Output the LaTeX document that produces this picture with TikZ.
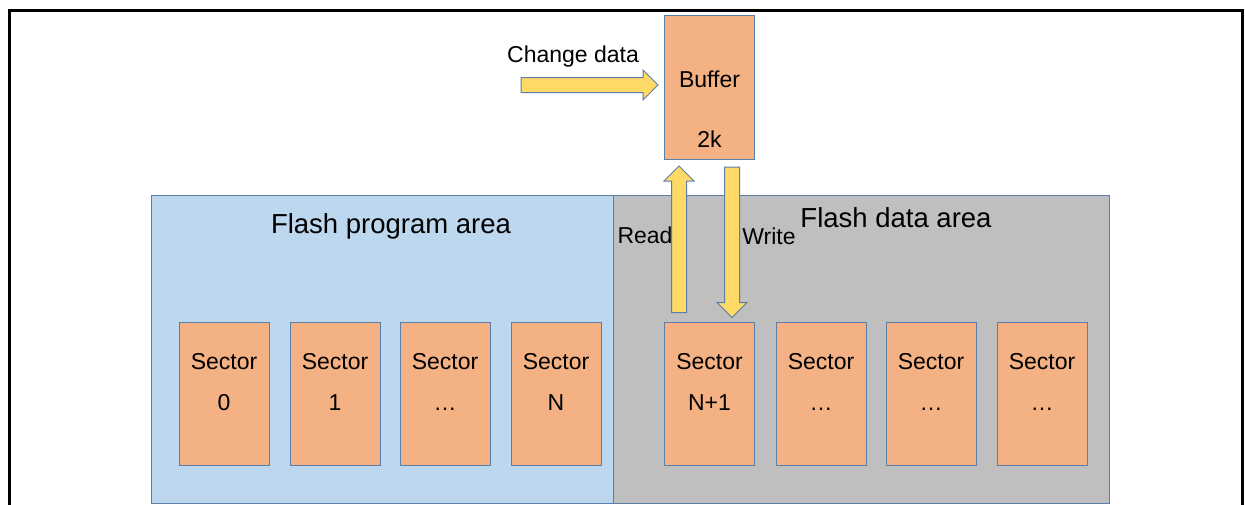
\documentclass[tikz,border=0pt]{standalone}
\usepackage{fontspec}
\setmainfont{Liberation Sans}
\usetikzlibrary{calc}

\definecolor{sectorfill}{HTML}{F4B183}
\definecolor{edgeblue}{HTML}{5A7FA8}
\definecolor{progfill}{HTML}{BDD7EE}
\definecolor{datafill}{HTML}{BFBFBF}
\definecolor{arrowfill}{HTML}{FFD966}

\tikzset{
  box/.style={draw=edgeblue, line width=1pt, fill=sectorfill,
    minimum width=90pt, minimum height=143pt, inner sep=0pt},
  area/.style={draw=edgeblue, line width=1pt, inner sep=0pt, anchor=north west},
  small/.style={font=\fontsize{23}{27}\selectfont, inner sep=0pt, anchor=base},
  big/.style={font=\fontsize{27.5}{32}\selectfont, inner sep=0pt, anchor=base},
  blockarrow/.style={draw=edgeblue, line width=1pt, fill=arrowfill, line join=miter},
}

% block arrows between two points on one vertical or horizontal line
\newcommand\blockup[2]{\draw[blockarrow] let \p1=(#1), \p2=(#2) in
  (\x1-7.5pt,\y1) -- (\x1-7.5pt,\y2-15pt) -- (\x1-15pt,\y2-15pt) -- (\x1,\y2)
  -- (\x1+15pt,\y2-15pt) -- (\x1+7.5pt,\y2-15pt) -- (\x1+7.5pt,\y1) -- cycle;}
\newcommand\blockdown[2]{\draw[blockarrow] let \p1=(#1), \p2=(#2) in
  (\x1-7.5pt,\y1) -- (\x1-7.5pt,\y2+15pt) -- (\x1-15pt,\y2+15pt) -- (\x1,\y2)
  -- (\x1+15pt,\y2+15pt) -- (\x1+7.5pt,\y2+15pt) -- (\x1+7.5pt,\y1) -- cycle;}
\newcommand\blockright[2]{\draw[blockarrow] let \p1=(#1), \p2=(#2) in
  (\x1,\y1-7.5pt) -- (\x2-15pt,\y1-7.5pt) -- (\x2-15pt,\y1-15pt) -- (\x2,\y1)
  -- (\x2-15pt,\y1+15pt) -- (\x2-15pt,\y1+7.5pt) -- (\x1,\y1+7.5pt) -- cycle;}

\begin{document}
\begin{tikzpicture}[x=1pt,y=-1pt]
\useasboundingbox (0,0) rectangle (1245,504);
\fill[white] (0,0) rectangle (1245,504);

% outer frame
\draw[line width=3pt] (9,540) -- (9,10) -- (1242,10) -- (1242,540);

% flash areas
\node[area, fill=progfill, minimum width=462, minimum height=308] (prog) at (151,195) {};
\node[area, fill=datafill, minimum width=496, minimum height=308] (data) at (613,195) {};
\node[big] (progt) at (391,233) {Flash program area};
\node[big] (datat) at (896,227) {Flash data area};

% sectors
\foreach \nm/\x/\lbl in {s0/224/0, s1/335/1, s2/445/\dots, sN/556/N,
                         sN1/709.5/N+1, s5/821/\dots, s6/931/\dots, s7/1042/\dots}{
  \node[box] (\nm) at (\x,393.5) {};
  \node[small] (\nm a) at ($(\nm.north)+(0,48)$) {Sector};
  \node[small] (\nm b) at ($(\nm.north)+(0,89)$) {\lbl};
}

% buffer
\node[box, minimum height=144, anchor=north west] (buf) at (664,15) {};
\node[small] (bufa) at ($(buf.north)+(0,72)$) {Buffer};
\node[small] (bufb) at ($(buf.north)+(0,132)$) {2k};

% change data arrow
\coordinate (cdS) at (521,85);
\coordinate (cdT) at ($(buf.west |- cdS)+(-6,0)$);
\blockright{cdS}{cdT}
\node[small] (cdl) at (573,62) {Change data};

% read arrow
\coordinate (rdS) at ($(sN1.north west)+(15,-9)$);
\coordinate (rdT) at ($(rdS |- buf.south)+(0,6)$);
\blockup{rdS}{rdT}
\node[small] (rdl) at (645,243) {Read};

% write arrow
\coordinate (wrS) at ($(buf.south west)+(68,7)$);
\coordinate (wrT) at ($(wrS |- sN1.north)+(0,-4)$);
\blockdown{wrS}{wrT}
\node[small] (wrl) at (769,244) {Write};
\end{tikzpicture}
\end{document}
